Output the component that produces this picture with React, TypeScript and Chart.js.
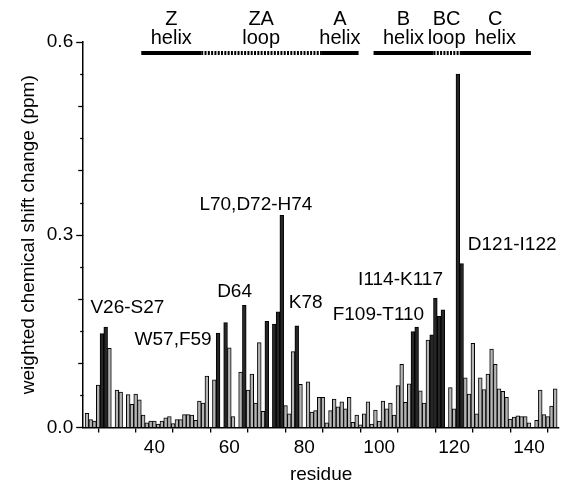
import React, { useEffect, useRef } from "react";
import { Chart, registerables } from "chart.js";

Chart.register(...registerables);

// ---- data ----
const firstResidue = 22;
const shiftValues: (number | null)[] = [
  0.022, 0.012, 0.010, 0.066, 0.146, 0.156, 0.123, null, 0.058, 0.055, // 22-31
  null, 0.051, 0.036, 0.052, 0.043, 0.019, 0.007, 0.010, 0.010, 0.005, // 32-41
  0.010, 0.015, 0.017, 0.006, 0.012, 0.012, 0.020, 0.020, 0.019, 0.011, // 42-51
  0.041, 0.038, 0.080, null, 0.074, 0.147, null, 0.163, 0.124, 0.017, // 52-61
  null, 0.086, 0.190, 0.058, 0.083, 0.038, 0.132, 0.025, 0.165, null, // 62-71
  0.161, 0.180, 0.330, 0.034, 0.021, 0.118, 0.158, 0.067, null, 0.071, // 72-81
  0.024, 0.026, 0.047, 0.047, 0.007, 0.026, 0.044, 0.032, 0.040, 0.029, // 82-91
  0.047, 0.008, 0.019, 0.004, 0.021, 0.040, 0.005, 0.027, 0.010, 0.041, // 92-101
  0.029, 0.038, 0.019, 0.065, 0.098, 0.039, 0.068, 0.149, 0.156, 0.057, // 102-111
  0.038, 0.136, 0.144, 0.201, 0.173, 0.183, null, 0.062, 0.029, 0.550, // 112-121
  0.255, 0.077, 0.052, 0.131, 0.021, 0.077, 0.059, 0.083, 0.122, 0.098, // 122-131
  0.060, 0.056, 0.047, 0.013, 0.016, 0.018, 0.017, 0.017, 0.007, null, // 132-141
  0.011, 0.058, 0.020, 0.017, 0.033, 0.060, // 142-147
];
const highlightedResidues = [26, 27, 57, 59, 64, 70, 72, 73, 74, 78, 109, 110, 114, 115, 116, 117, 121, 122];

const yTickLabels = [0, 0.3, 0.6];
const xTickLabels = [40, 60, 80, 100, 120, 140];

const noteTexts = ["V26-S27", "W57,F59", "D64", "L70,D72-H74", "K78", "I114-K117", "F109-T110", "D121-I122"];
const noteResidue = [32.8, 45.0, 61.4, 67.1, 80.4, 105.7, 99.8, 135.5];
const noteValue = [0.187, 0.137, 0.211, 0.347, 0.194, 0.23, 0.176, 0.285];

const ssName = ["Z", "ZA", "A", "B", "BC", "C"];
const ssKind = ["helix", "loop", "helix", "helix", "loop", "helix"];
const ssStart = [37, 53, 85, 99, 115, 122];
const ssEnd = [52, 84, 94, 114, 121, 140];

const FONT = "'Liberation Sans', Arial, Helvetica, sans-serif";

const overlayPlugin = {
  id: "overlay",
  afterDraw(chart: any) {
    const { ctx, chartArea } = chart;
    const x = chart.scales.x;
    const y = chart.scales.y;
    ctx.save();
    // y tick marks
    ctx.strokeStyle = "#000";
    ctx.lineWidth = 1.3;
    y.ticks.forEach((t: any) => {
      const v = Math.round(t.value * 100);
      const len = v % 30 === 0 ? 7 : v % 10 === 0 ? 5 : 3;
      const py = Math.round(y.getPixelForValue(t.value)) + 0.5;
      ctx.beginPath();
      ctx.moveTo(chartArea.left - len, py);
      ctx.lineTo(chartArea.left, py);
      ctx.stroke();
    });
    // annotations
    ctx.fillStyle = "#000";
    ctx.font = `19px ${FONT}`;
    ctx.textAlign = "center";
    ctx.textBaseline = "middle";
    noteTexts.forEach((txt, i) => {
      ctx.fillText(txt, x.getPixelForValue(noteResidue[i]), y.getPixelForValue(noteValue[i]));
    });
    // secondary structure
    const lineY = chartArea.top + 11;
    ctx.font = `20px ${FONT}`;
    ssName.forEach((name, i) => {
      const x0 = x.getPixelForValue(ssStart[i] - 0.5);
      const x1 = x.getPixelForValue(ssEnd[i] + 0.5);
      const cx = (x0 + x1) / 2;
      ctx.fillText(name, cx, chartArea.top - 23);
      ctx.fillText(ssKind[i], cx, chartArea.top - 4);
      ctx.beginPath();
      ctx.lineWidth = 4;
      ctx.strokeStyle = "#000";
      if (ssKind[i] === "loop") ctx.setLineDash([2, 1.3]);
      else ctx.setLineDash([]);
      ctx.moveTo(x0, lineY);
      ctx.lineTo(x1, lineY);
      ctx.stroke();
    });
    ctx.setLineDash([]);
    ctx.restore();
  },
};

export default function App() {
  const ref = useRef<HTMLCanvasElement>(null);
  useEffect(() => {
    document.body.style.margin = "0";
    const points = shiftValues
      .map((v, i) => ({ x: firstResidue + i, y: v }))
      .filter((p) => p.y !== null);
    const colors = points.map((p) =>
      highlightedResidues.includes(p.x) ? "#262626" : "#b4b4b4"
    );
    const chart = new Chart(ref.current!, {
      type: "bar",
      data: {
        datasets: [
          {
            data: points as any,
            backgroundColor: colors,
            borderColor: "#000",
            borderWidth: 1,
            barPercentage: 1,
            categoryPercentage: 1,
          },
        ],
      },
      plugins: [overlayPlugin],
      options: {
        animation: false,
        responsive: false,
        layout: { padding: { left: 13, right: 4, top: 42, bottom: 0 } },
        plugins: { legend: { display: false }, tooltip: { enabled: false } },
        scales: {
          x: {
            type: "linear",
            min: 21,
            max: 148,
            offset: false,
            grid: { drawOnChartArea: false, drawTicks: true, tickLength: 5, tickColor: "#000", lineWidth: 1.3 },
            border: { display: true, color: "#000", width: 1.5 },
            ticks: {
              stepSize: 10,
              includeBounds: false,
              autoSkip: false,
              maxRotation: 0,
              padding: 4,
              color: "#000",
              font: { family: FONT, size: 19 },
              callback: (v: any) => (xTickLabels.includes(Number(v)) ? String(v) : ""),
            },
            title: {
              display: true,
              text: "residue",
              color: "#000",
              font: { family: FONT, size: 19 },
              padding: { top: 0, bottom: 0 },
            },
          },
          y: {
            min: 0,
            max: 0.6,
            grid: { drawOnChartArea: false, drawTicks: true, tickLength: 7, tickColor: "rgba(0,0,0,0)" },
            border: { display: true, color: "#000", width: 1.5 },
            ticks: {
              stepSize: 0.05,
              autoSkip: false,
              padding: 3,
              color: "#000",
              font: { family: FONT, size: 19 },
              callback: (v: any) => {
                const n = Math.round(Number(v) * 100) / 100;
                return yTickLabels.some((t) => Math.abs(t - n) < 1e-6) ? n.toFixed(1) : "";
              },
            },
            title: {
              display: true,
              text: "weighted chemical shift change (ppm)",
              color: "#000",
              font: { family: FONT, size: 19 },
              padding: { top: 4, bottom: 4 },
            },
          },
        },
      },
    });
    return () => chart.destroy();
  }, []);
  return (
    <div style={{ width: 563, height: 486 }}>
      <canvas ref={ref} width={563} height={486} style={{ display: "block" }} />
    </div>
  );
}
